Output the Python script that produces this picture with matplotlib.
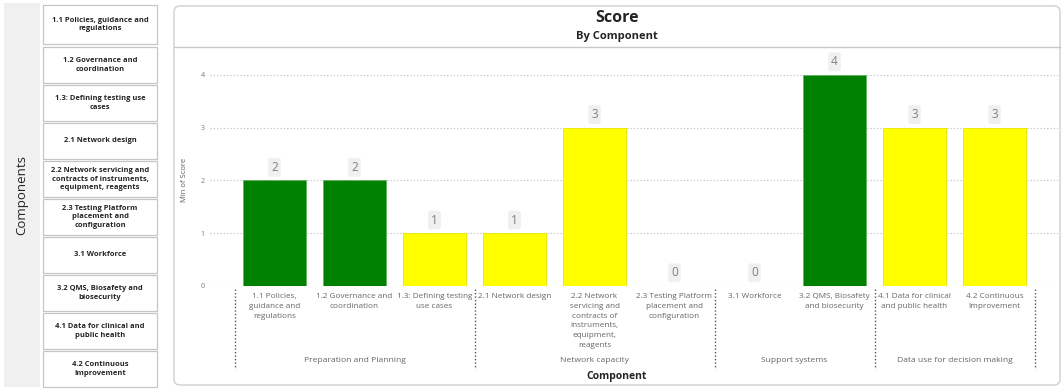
import matplotlib
matplotlib.use("Agg")
import matplotlib.pyplot as plt
from matplotlib.patches import FancyBboxPatch, Rectangle
import numpy as np

# data
components = ["1.1 Policies,\nguidance and\nregulations",
              "1.2 Governance and\ncoordination",
              "1.3: Defining testing\nuse cases",
              "2.1 Network design",
              "2.2 Network\nservicing and\ncontracts of\ninstruments,\nequipment,\nreagents",
              "2.3 Testing Platform\nplacement and\nconfiguration",
              "3.1 Workforce",
              "3.2 QMS, Biosafety\nand biosecurity",
              "4.1 Data for clinical\nand public health",
              "4.2 Continuous\nImprovement"]
scores = [2, 2, 1, 1, 3, 0, 0, 4, 3, 3]
bar_colors = ["#008000", "#008000", "#FFFF00", "#FFFF00", "#FFFF00",
              "#FFFF00", "#FFFF00", "#008000", "#FFFF00", "#FFFF00"]
groups = ["Preparation and Planning", "Network capacity", "Support systems",
          "Data use for decision making"]
group_sizes = [3, 3, 2, 2]
slicer_items = ["1.1 Policies, guidance and\nregulations",
                "1.2 Governance and\ncoordination",
                "1.3: Defining testing use\ncases",
                "2.1 Network design",
                "2.2 Network servicing and\ncontracts of instruments,\nequipment, reagents",
                "2.3 Testing Platform\nplacement and\nconfiguration",
                "3.1 Workforce",
                "3.2 QMS, Biosafety and\nbiosecurity",
                "4.1 Data for clinical and\npublic health",
                "4.2 Continuous\nImprovement"]
yticks = [0, 1, 2, 3, 4]

plt.rcParams['font.family'] = ['Open Sans', 'DejaVu Sans']
W, H = 1064, 390
fig = plt.figure(figsize=(W / 100, H / 100), dpi=100)

# background layer in pixel coords
bg = fig.add_axes([0, 0, 1, 1])
bg.set_xlim(0, W); bg.set_ylim(H, 0); bg.axis('off')

# left slicer
bg.add_patch(Rectangle((4, 3), 36, 384, facecolor="#f0f0f0", edgecolor="none"))
bg.text(22, 195, "Components", rotation=90, ha='center', va='center', fontsize=9.5, color="#252423")
box_tops = [5, 47, 85, 123, 161, 199, 237, 275, 313, 351]
for top, lab in zip(box_tops, slicer_items):
    bh = 36 if top != 5 else 39
    bg.add_patch(Rectangle((43, top), 114, bh, facecolor="white", edgecolor="#c6c6c6", lw=0.9))
    bg.text(100, top + bh / 2, lab, ha='center', va='center', fontsize=5.4,
            fontweight='bold', color="#252423", linespacing=1.3)

# chart panel
bg.add_patch(FancyBboxPatch((174, 6), 886, 379, boxstyle="round,pad=0,rounding_size=6",
                            facecolor="white", edgecolor="#cfcfcf", lw=1))
bg.plot([174, 1060], [47, 47], color="#c8c8c8", lw=1)
bg.text(617, 18, "Score", ha='center', va='center', fontsize=11.5, fontweight='bold', color="#252423")
bg.text(617, 37, "By Component", ha='center', va='center', fontsize=8, fontweight='bold', color="#252423")
bg.text(617, 377, "Component", ha='center', va='center', fontsize=7.5, fontweight='bold', color="#252423")
bg.text(184, 180, "Min of Score", rotation=90, ha='center', va='center', fontsize=5.5, color="#605e5c")

# plot axes: x 210..1058, y 60..286 px
x0, x1, ytop, ybot = 210, 1058, 60, 286
ax = fig.add_axes([x0 / W, 1 - ybot / H, (x1 - x0) / W, (ybot - ytop) / H])
ax.patch.set_alpha(0)
ax.set_xlim((x0 - 274.5) / 80, (x1 - 274.5) / 80)
ax.set_ylim(0, (ybot - ytop) / 52.75)
for s in ax.spines.values():
    s.set_visible(False)
ax.set_yticks(yticks)
ax.tick_params(axis='y', length=0, labelsize=5, labelcolor="#777777", pad=4)
ax.set_xticks([])
ax.yaxis.grid(True, linestyle=(0, (1, 2)), color="#bbbbbb", lw=0.8)
ax.set_axisbelow(True)

xs = np.arange(len(scores))
edge = ["#66b266" if c == "#008000" else "#e6e600" for c in bar_colors]
ax.bar(xs, scores, width=63 / 80, color=bar_colors, edgecolor=edge, lw=0.6, zorder=3)
for x, v in zip(xs, scores):
    ax.annotate(str(v), (x, v), xytext=(0, 9.5), textcoords='offset points', ha='center',
                va='center', fontsize=8.5, color="#808080",
                bbox=dict(boxstyle="round,pad=0.25,rounding_size=0.2", fc="#f0f0f0", ec="none"))

# category labels and group separators in pixel coords
for i, lab in enumerate(components):
    cx = 274.5 + 80 * i
    bg.text(cx, 293, lab, ha='center', va='top', fontsize=5.9, color="#666666", linespacing=1.55)
bounds = np.concatenate([[0], np.cumsum(group_sizes)])
for b in bounds:
    bx = 234.5 + 80 * b
    bg.plot([bx, bx], [289, 369], color="#555555", lw=1, linestyle=(0, (1, 1.5)))
for g, a, b in zip(groups, bounds[:-1], bounds[1:]):
    gx = 234.5 + 80 * (a + b) / 2
    bg.text(gx, 360, g, ha='center', va='center', fontsize=6.1, color="#666666")

fig.savefig("out.png", dpi=100)
